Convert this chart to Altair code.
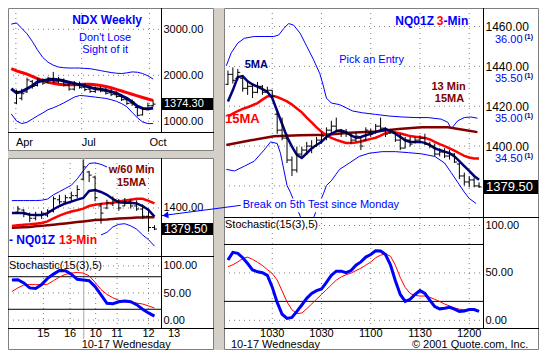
import altair as alt
import pandas as pd

# ======================= data =======================
# ---- NDX weekly (upper-left window); x = week index ----
ndx_line_week = list(range(28))
ndx_ma5 = [1709, 1618, 1646, 1709, 1772, 1856, 1884, 1905, 1912, 1905, 1877, 1849, 1821, 1793,
           1772, 1737, 1709, 1695, 1674, 1646, 1611, 1554, 1498, 1421, 1330, 1281, 1267, 1288]
ndx_ma15 = [2144, 2095, 2060, 2025, 1975, 1926, 1884, 1849, 1828, 1807, 1793, 1793, 1793, 1800,
            1807, 1807, 1793, 1779, 1758, 1730, 1695, 1660, 1625, 1589, 1554, 1519, 1484, 1456]
ndx_band_hi = [3112, 3140, 3021, 2902, 2740, 2551, 2389, 2284, 2221, 2179, 2165, 2158, 2158, 2158,
               2151, 2144, 2123, 2102, 2081, 2060, 2046, 2039, 2053, 2074, 2067, 2039, 1989, 1919]
ndx_band_lo = [1161, 1007, 951, 979, 1049, 1119, 1182, 1253, 1295, 1344, 1400, 1463, 1526, 1561,
               1554, 1540, 1526, 1512, 1498, 1470, 1435, 1386, 1316, 1196, 1077, 986, 951, 951]
ndx_bar_week = list(range(1, 28))
ndx_open = [1400, 1500, 1640, 1870, 1780, 1900, 1850, 1930, 1860, 1900, 1790, 1700, 1800, 1740,
            1700, 1650, 1710, 1660, 1620, 1580, 1540, 1470, 1400, 1300, 1140, 1280, 1340]
ndx_high = [1688, 1709, 1947, 1898, 1947, 1933, 1968, 2074, 1968, 1933, 1863, 1877, 1863, 1828,
            1779, 1758, 1758, 1723, 1702, 1653, 1596, 1512, 1477, 1337, 1302, 1407, 1456]
ndx_low = [1372, 1456, 1617, 1709, 1758, 1793, 1828, 1828, 1828, 1758, 1667, 1667, 1709, 1653,
           1617, 1617, 1632, 1582, 1547, 1512, 1442, 1358, 1337, 1105, 1126, 1267, 1316]
ndx_close = [1650, 1600, 1900, 1760, 1920, 1830, 1940, 1860, 1900, 1790, 1700, 1820, 1740, 1690,
             1650, 1720, 1660, 1610, 1580, 1540, 1470, 1390, 1420, 1130, 1270, 1340, 1374.3]
ndx_last = 1374.30
ndx_month_pos = [0.88, 13.4, 26.3]
ndx_month_lab = ["Apr", "Jul", "Oct"]
ndx_price_ticks = [1000, 2000, 3000]

# ---- NQ01Z 13-min (middle-left window); x = bar slot ----
nq13_line_idx = list(range(-1, 24))
nq13_ma5 = [1395.0, 1395.0, 1395.0, 1393.5, 1393.1, 1393.1, 1395.0, 1398.8, 1401.9, 1404.4,
            1406.2, 1408.1, 1409.7, 1416.5, 1417.4, 1415.6, 1412.8, 1408.7, 1405.6, 1405.0,
            1405.0, 1404.4, 1401.9, 1398.1, 1391.6]
nq13_ma15 = [1382.6, 1383.2, 1383.8, 1384.1, 1384.7, 1385.4, 1386.9, 1390.0, 1392.5, 1394.7,
             1396.6, 1397.8, 1399.4, 1401.9, 1403.1, 1404.0, 1404.7, 1405.0, 1406.2, 1407.2,
             1408.1, 1409.0, 1409.0, 1406.9, 1404.4]
nq13_ma60 = [1380.7, 1381.0, 1381.3, 1381.6, 1382.2, 1382.6, 1383.2, 1383.8, 1384.4, 1385.0,
             1385.7, 1386.3, 1386.9, 1387.5, 1388.2, 1388.5, 1388.8, 1389.4, 1389.7, 1390.0,
             1390.3, 1390.7, 1390.7, 1391.0, 1391.0]
nq13_band_hi_idx = list(range(-1, 16))
nq13_band_hi = [1407.2, 1407.2, 1407.2, 1407.2, 1407.2, 1407.5, 1408.7, 1412.8, 1415.9, 1419.0,
                1422.1, 1428.3, 1436.1, 1443.3, 1443.9, 1442.4, 1439.9]
nq13_band_lo_idx = list(range(14, 24))
nq13_band_lo = [1373.8, 1376.3, 1381.6, 1384.1, 1384.7, 1382.6, 1379.4, 1373.8, 1369.2, 1362.9]
nq13_bar_idx = list(range(24))
nq13_open = [1396, 1398, 1394, 1390, 1393, 1393, 1397, 1408, 1406, 1410, 1412, 1428, 1435, 1430,
             1402, 1400, 1404, 1406, 1402, 1406, 1402, 1399, 1392, 1381]
nq13_high = [1401.9, 1398.8, 1395.6, 1396.3, 1397.2, 1398.8, 1411.2, 1412.8, 1412.8, 1415.9,
             1422.1, 1447.0, 1436.1, 1431.5, 1405.0, 1408.1, 1411.2, 1408.7, 1409.7, 1408.7,
             1407.5, 1403.4, 1397.2, 1383.2]
nq13_low = [1394.1, 1391.0, 1386.3, 1387.9, 1389.4, 1391.0, 1395.6, 1403.4, 1405.0, 1406.5,
            1409.7, 1426.8, 1425.2, 1406.5, 1384.7, 1398.8, 1401.9, 1397.2, 1401.9, 1399.4,
            1397.2, 1389.4, 1376.9, 1378.5]
nq13_close = [1399, 1394, 1390, 1393, 1395, 1397, 1409, 1406, 1410, 1412, 1418, 1440, 1432, 1410,
              1395, 1405, 1408, 1400, 1406, 1402, 1399, 1392, 1381, 1379.5]
nq13_last = 1379.50
nq13_price_ticks = [1400]
nq13_tick_pos = [4.3, 8.8, 13.1, 16.7, 22.0, 26.3]
nq13_tick_lab = ["15", "16", "10", "11", "12", "13"]
nq13_day_break = [11.1]
# stochastic of the 13-min chart
st13_k = [73.9, 74.5, 68.5, 59.4, 58.2, 65.5, 77.0, 84.8, 91.5, 90.9, 84.8, 75.2, 73.9, 72.7,
          61.8, 46.7, 30.9, 30.3, 33.9, 35.2, 33.9, 28.5, 20.0, 13.3, 7.3]
st13_d = [52.7, 59.4, 64.8, 65.5, 65.5, 65.5, 66.1, 72.7, 79.4, 84.2, 86.7, 87.9, 86.7, 81.8,
          69.7, 56.4, 47.3, 41.2, 36.4, 33.9, 32.7, 31.5, 29.7, 26.1, 22.4]

# ---- NQ01Z 3-min (right window); x = minutes after midnight ----
nq3_t = list(range(573, 729, 3))
nq3_open = [1431, 1436, 1434, 1434, 1429, 1430, 1427, 1430, 1427, 1428, 1416, 1408, 1404, 1393,
            1388, 1396, 1398, 1400, 1400, 1403, 1404, 1408, 1410, 1408, 1407, 1406, 1403, 1404,
            1403, 1407, 1407, 1410, 1409, 1406.5, 1407, 1403, 1399, 1403, 1402, 1403, 1404, 1401,
            1400, 1396, 1397, 1395, 1396, 1391, 1385, 1382, 1383, 1380]
nq3_high = [1437.9, 1439.5, 1438.7, 1434.6, 1432.2, 1431.4, 1432.2, 1430.6, 1429.8, 1428.1,
            1417.6, 1414.3, 1406.2, 1394.8, 1399.7, 1399.7, 1402.1, 1402.9, 1404.6, 1407.0,
            1409.4, 1412.7, 1414.3, 1408.6, 1408.6, 1406.2, 1407.0, 1404.6, 1409.4, 1408.6,
            1411.1, 1414.3, 1409.4, 1408.6, 1407.0, 1406.2, 1404.6, 1404.6, 1404.6, 1405.4,
            1406.2, 1402.1, 1401.3, 1398.9, 1398.9, 1398.0, 1396.4, 1391.5, 1386.7, 1385.0,
            1384.2, 1381.8]
nq3_low = [1430.6, 1431.4, 1433.0, 1427.3, 1425.7, 1424.1, 1426.5, 1425.7, 1426.5, 1424.1,
           1406.2, 1402.9, 1391.5, 1385.0, 1386.7, 1394.8, 1395.6, 1396.4, 1399.7, 1401.3,
           1402.9, 1406.2, 1407.0, 1404.6, 1404.6, 1401.3, 1402.1, 1398.0, 1402.9, 1404.6,
           1406.2, 1407.0, 1404.6, 1406.2, 1402.1, 1398.0, 1398.9, 1399.7, 1401.3, 1402.1,
           1400.5, 1398.9, 1394.8, 1394.8, 1394.0, 1393.2, 1391.5, 1383.4, 1380.2, 1379.3,
           1379.3, 1379.0]
nq3_close = [1436, 1433, 1437, 1429, 1430, 1427, 1430, 1427, 1428, 1425, 1408, 1404, 1393, 1388,
             1396, 1398, 1400, 1399, 1403, 1405, 1408, 1410, 1408, 1407, 1406, 1403, 1405, 1400,
             1408, 1406, 1410, 1409, 1406, 1408, 1403, 1399, 1403, 1401, 1403, 1404, 1401, 1400,
             1396, 1397, 1395, 1396, 1392, 1385, 1382, 1383, 1380, 1379.5]
nq3_ma5 = [1422.4, 1428.1, 1434.6, 1435.1, 1432.5, 1430.9, 1429.8, 1428.6, 1427.3, 1424.1,
           1417.6, 1411.1, 1404.6, 1399.7, 1395.6, 1394.0, 1396.4, 1398.9, 1400.5, 1402.1,
           1404.6, 1406.2, 1407.5, 1407.8, 1407.0, 1405.4, 1404.2, 1404.6, 1405.4, 1406.2,
           1407.0, 1407.8, 1408.6, 1407.5, 1406.2, 1404.6, 1402.9, 1402.1, 1402.1, 1402.1,
           1401.6, 1400.5, 1398.9, 1398.0, 1397.2, 1396.4, 1394.8, 1392.4, 1389.9, 1387.5,
           1385.0, 1383.1]
nq3_ma15 = [1414.8, 1416.3, 1417.6, 1418.7, 1419.5, 1420.5, 1421.6, 1423.3, 1424.9, 1425.2,
            1424.6, 1423.6, 1422.4, 1420.8, 1418.9, 1416.9, 1414.3, 1411.9, 1409.4, 1407.2,
            1405.4, 1404.1, 1403.1, 1402.3, 1401.6, 1401.6, 1401.8, 1402.3, 1402.9, 1403.6,
            1404.2, 1405.2, 1406.5, 1407.2, 1406.8, 1406.3, 1405.7, 1405.0, 1404.7, 1404.4,
            1404.1, 1403.3, 1402.1, 1401.0, 1400.0, 1398.9, 1397.7, 1396.4, 1395.1, 1394.3,
            1393.8, 1393.7]
nq3_ma13m_t = [572, 587, 601, 617, 633, 647, 663, 677, 691, 707, 719, 725]
nq3_ma13m = [1400.5, 1402.9, 1404.9, 1405.4, 1405.7, 1406.7, 1407.3, 1408.6, 1409.4, 1409.4,
             1407.8, 1407.0]
nq3_band_hi_t = [572, 575, 579, 583, 589, 595, 601, 604, 607, 610, 613, 617, 621, 625, 629, 631,
                 633, 636, 641, 645, 649, 655, 663, 671, 679, 687, 695, 703, 707, 709, 713, 717,
                 721, 725]
nq3_band_hi = [1440.3, 1446.8, 1451.7, 1454.1, 1455.0, 1455.0, 1455.0, 1455.8, 1459.0, 1461.5,
               1460.7, 1456.6, 1450.1, 1443.6, 1436.3, 1430.6, 1424.1, 1421.6, 1420.8, 1419.2,
               1417.6, 1416.7, 1415.9, 1415.1, 1414.6, 1414.3, 1414.3, 1413.5, 1411.9, 1408.6,
               1412.7, 1414.3, 1414.6, 1414.0]
nq3_band_lo_a_t = [572, 577, 583, 589, 595, 599, 603, 605, 607, 609, 611, 614, 617.2]
nq3_band_lo_a = [1388.3, 1387.5, 1389.9, 1392.4, 1398.0, 1402.1, 1401.3, 1396.4, 1388.3, 1380.2,
                 1376.9, 1370.9, 1364.5]
nq3_band_lo_b_t = [625.4, 628, 631.2, 633, 636, 641, 647, 653, 659, 667, 675, 683, 691, 699, 705,
                   709, 713, 717, 720, 724.2]
nq3_band_lo_b = [1364.5, 1370.1, 1376.1, 1380.2, 1382.6, 1388.3, 1391.5, 1394.8, 1396.4, 1397.2,
                 1397.2, 1396.7, 1396.1, 1394.8, 1391.5, 1386.7, 1381.8, 1376.9, 1373.7, 1371.2]
nq3_last = 1379.50
nq3_price_grid = [1380, 1400, 1420, 1440, 1460]
nq3_price_ticks = [1400, 1420, 1440, 1460]
qqq_ticks = [34.5, 35.0, 35.5, 36.0]
nq3_tick_t = [600, 630, 660, 690, 720]
nq3_tick_lab = ["1030", "1030", "1100", "1130", "1200"]
st3_k = [63.6, 71.7, 70.7, 66.0, 59.9, 53.2, 51.2, 50.2, 47.5, 35.0, 18.9, 6.4, 2.0, 3.0, 9.4,
         16.2, 23.2, 28.3, 31.3, 33.0, 40.1, 47.5, 51.9, 51.9, 50.2, 52.5, 58.2, 61.6, 66.7, 69.4,
         73.4, 73.1, 69.4, 58.6, 41.8, 27.3, 19.9, 22.2, 27.3, 31.3, 28.3, 21.2, 14.5, 12.1, 12.8,
         13.8, 11.8, 9.4, 9.8, 11.4, 11.4, 9.4]
st3_d = [56.6, 58.6, 61.6, 65.3, 66.7, 64.3, 61.3, 57.9, 53.5, 49.5, 42.4, 31.0, 19.5, 11.1, 7.1,
         7.7, 12.1, 17.2, 22.2, 27.3, 32.3, 37.4, 42.4, 45.8, 48.1, 49.8, 52.5, 54.9, 58.2, 61.6,
         66.0, 68.7, 70.0, 67.7, 58.2, 45.1, 34.7, 28.3, 26.3, 25.6, 25.6, 24.2, 22.2, 19.9, 17.2,
         15.2, 13.1, 11.8, 11.1, 10.4, 10.4, 10.1]
stoch_grid = [0, 50, 100]
stoch_levels = [20, 80]

# ======================= layout / style =======================
FONT = "Liberation Sans"
BLUE, NAVY, RED, MAROON = "#0000ff", "#000080", "#ff0000", "#800000"
GRAY, GRID = "#d4d0c8", "#808080"
W, H = 531, 342
P = {"LT": (0, 0, 153, 124), "LM": (0, 150, 153, 98), "LS": (0, 248, 153, 72),
     "RT": (216, 0, 259, 209), "RS": (216, 209, 259, 111)}
REF = {"LT": (4, 4, 156, 128), "LM": (4, 160, 156, 102), "LS": (4, 262, 156, 73),
       "RT": (226, 4, 263, 215), "RS": (226, 219, 263, 116)}
LT_X, LT_Y = [-0.62, 28.5], [768, 3463]
L_X, LM_Y, LS_Y = [-1.66, 24.1], [1353.3, 1448.6], [-14.5, 118.2]
R_X, RT_Y, RT_Y2, RS_Y = [570.6, 728.4], [1364.4, 1469.3], [33.77, 36.39], [-8.1, 109]
TICK_Y = 325.5    # row of time labels under the stochastic panels
DATE_Y = 337.0    # row of date / copyright text


def at(p, rx, ry):
    x0, y0, w, h = P[p]
    a, b, c, d = REF[p]
    return x0 + (rx - a) * w / c, y0 + (ry - b) * h / d


def sx(p, dom):
    x0, y0, w, h = P[p]
    return alt.Scale(domain=dom, range=[x0, x0 + w], nice=False, zero=False)


def sy(p, dom):
    x0, y0, w, h = P[p]
    return alt.Scale(domain=dom, range=[y0 + h, y0], nice=False, zero=False)


ONE = pd.DataFrame({"d": [0]})
layers = []


def rect(x1, y1, x2, y2, **kw):
    return alt.Chart(ONE).mark_rect(**kw).encode(
        x=alt.value(x1), x2=alt.value(x2), y=alt.value(y1), y2=alt.value(y2))


def seg(x1, y1, x2, y2, color="black", width=1):
    return alt.Chart(ONE).mark_rule(color=color, strokeWidth=width).encode(
        x=alt.value(x1), x2=alt.value(x2), y=alt.value(y1), y2=alt.value(y2))


def text(p, rx, ry, s, color="black", size=11, bold=False, align="left", y=None):
    x, yy = at(p, rx, ry)
    if y is not None:
        yy = y
    kw = dict(text=s, color=color, fontSize=size, font=FONT, align=align, baseline="middle")
    if bold:
        kw["fontWeight"] = "bold"
    return alt.Chart(ONE).mark_text(**kw).encode(x=alt.value(x), y=alt.value(yy))


def series(p, xdom, ydom, xv, yv, color, width, segs=None):
    d = {"x": xv, "y": yv}
    enc = dict(x=alt.X("x:Q", scale=sx(p, xdom), axis=None),
               y=alt.Y("y:Q", scale=sy(p, ydom), axis=None))
    if segs is not None:
        d["s"] = segs
        enc["detail"] = "s:N"
    return alt.Chart(pd.DataFrame(d)).mark_line(color=color, strokeWidth=width).encode(**enc)


def ohlc(p, xdom, ydom, x, o, h, l, c):
    df = pd.DataFrame({"x": x, "o": o, "h": h, "l": l, "c": c})
    X = alt.X("x:Q", scale=sx(p, xdom), axis=None)
    b = alt.Chart(df)
    return [
        b.mark_rule(color="black", strokeWidth=1).encode(
            x=X, y=alt.Y("h:Q", scale=sy(p, ydom), axis=None), y2="l:Q"),
        b.mark_tick(orient="horizontal", color="black", size=2.5, thickness=1, opacity=1,
                    xOffset=-1.25).encode(x=X, y=alt.Y("o:Q", scale=sy(p, ydom), axis=None)),
        b.mark_tick(orient="horizontal", color="black", size=2.5, thickness=1, opacity=1,
                    xOffset=1.25).encode(x=X, y=alt.Y("c:Q", scale=sy(p, ydom), axis=None)),
    ]


def yaxis(vals, p, pad=2, size=11, **kw):
    x0, y0, w, h = P[p]
    return alt.Axis(orient="right", offset=x0 + w - W, values=vals, format=".2f", ticks=False,
                    tickSize=0, domain=False, grid=False, labelPadding=pad, labelFont=FONT,
                    labelFontSize=size, labelOverlap=False, title=None, **kw)


def hgrid(p, ydom, vals, axis=None, dash=True, color=GRID):
    x0, y0, w, h = P[p]
    mk = dict(color=color, strokeWidth=1)
    if dash:
        mk["strokeDash"] = [1, 4]
    return alt.Chart(pd.DataFrame({"v": vals})).mark_rule(**mk).encode(
        y=alt.Y("v:Q", scale=sy(p, ydom), axis=axis), x=alt.value(x0), x2=alt.value(x0 + w))


def vgrid(p, xdom, vals, y1, y2, dash=True, color=GRID):
    mk = dict(color=color, strokeWidth=1)
    if dash:
        mk["strokeDash"] = [1, 4]
    return alt.Chart(pd.DataFrame({"v": vals})).mark_rule(**mk).encode(
        x=alt.X("v:Q", scale=sx(p, xdom), axis=None), y=alt.value(y1), y2=alt.value(y2))


def xlabels(p, xdom, vals, labs, y, align="center"):
    return alt.Chart(pd.DataFrame({"v": vals, "t": labs})).mark_text(
        font=FONT, fontSize=11, color="black", align=align, baseline="middle").encode(
        x=alt.X("v:Q", scale=sx(p, xdom), axis=None), y=alt.value(y), text="t:N")


def pricebox(p, ydom, price, bw, bh, size):
    x0, y0, w, h = P[p]
    df = pd.DataFrame({"p": [price]})
    Y = alt.Y("p:Q", scale=sy(p, ydom), axis=None)
    return [
        alt.Chart(df).mark_tick(orient="horizontal", color="black", size=bw, thickness=bh,
                                opacity=1).encode(x=alt.value(x0 + w + 1 + bw / 2), y=Y),
        alt.Chart(df).mark_text(color="white", font=FONT, fontSize=size, align="left",
                                baseline="middle").encode(
            x=alt.value(x0 + w + 3), y=Y, text=alt.Text("p:Q", format=".2f")),
    ]


# ---------- window chrome ----------
layers += [
    rect(206, 0, 216, H, color=GRAY),
    rect(0, 143, 206, 150, color=GRAY),
    rect(0.5, 0.5, 205.5, 142.5, filled=False, color=GRID, strokeWidth=1),
    rect(0.5, 150.5, 205.5, 341.5, filled=False, color=GRID, strokeWidth=1),
    rect(216.5, 0.5, 530.5, 341.5, filled=False, color=GRID, strokeWidth=1),
]

# ---------- grids and value axes ----------
layers += [
    hgrid("LT", LT_Y, ndx_price_ticks, yaxis(ndx_price_ticks, "LT")),
    vgrid("LT", LT_X, ndx_month_pos, 0, 124),
    hgrid("LM", LM_Y, nq13_price_ticks, yaxis(nq13_price_ticks, "LM")),
    hgrid("LS", LS_Y, stoch_grid, yaxis(stoch_grid, "LS")),
    vgrid("LM", L_X, [v for v in nq13_tick_pos if v <= L_X[1]], 150, 320),
    vgrid("LM", L_X, nq13_day_break, 150, 331, dash=False, color="#a8a8a8"),
    hgrid("RT", RT_Y, nq3_price_grid, yaxis(nq3_price_ticks, "RT", size=12)),
    hgrid("RS", RS_Y, stoch_grid, yaxis(stoch_grid, "RS")),
    vgrid("RT", R_X, nq3_tick_t, 0, 320),
    alt.Chart(pd.DataFrame({"v": qqq_ticks})).mark_rule(opacity=0).encode(
        y=alt.Y("v:Q", scale=sy("RT", RT_Y2),
                axis=yaxis(qqq_ticks, "RT", pad=39, labelAlign="right", labelColor=BLUE)),
        x=alt.value(216), x2=alt.value(217)),
    alt.Chart(pd.DataFrame({"v": qqq_ticks})).mark_rule(opacity=0).encode(
        y=alt.Y("v:Q", scale=sy("RT", RT_Y2),
                axis=yaxis(qqq_ticks, "RT", pad=41, size=7, labelAlign="left", labelColor=NAVY,
                           labelFontWeight="bold", labelOffset=-3, labelExpr="'(1)'")),
        x=alt.value(216), x2=alt.value(217)),
]

# ---------- NDX weekly ----------
layers += [
    series("LT", LT_X, LT_Y, ndx_line_week, ndx_band_hi, BLUE, 1),
    series("LT", LT_X, LT_Y, ndx_line_week, ndx_band_lo, BLUE, 1),
    series("LT", LT_X, LT_Y, ndx_line_week, ndx_ma15, RED, 3),
    series("LT", LT_X, LT_Y, ndx_line_week, ndx_ma5, NAVY, 3),
]
layers += ohlc("LT", LT_X, LT_Y, ndx_bar_week, ndx_open, ndx_high, ndx_low, ndx_close)

# ---------- NQ 13-min ----------
layers += [
    series("LM", L_X, LM_Y, nq13_band_hi_idx, nq13_band_hi, BLUE, 1),
    series("LM", L_X, LM_Y, nq13_band_lo_idx, nq13_band_lo, BLUE, 1),
    series("LM", L_X, LM_Y, nq13_line_idx, nq13_ma60, MAROON, 2.5),
    series("LM", L_X, LM_Y, nq13_line_idx, nq13_ma15, RED, 2.5),
    series("LM", L_X, LM_Y, nq13_line_idx, nq13_ma5, NAVY, 2.5),
]
layers += ohlc("LM", L_X, LM_Y, nq13_bar_idx, nq13_open, nq13_high, nq13_low, nq13_close)
layers += [
    hgrid("LS", LS_Y, stoch_levels, dash=False, color="black"),
    series("LS", L_X, LS_Y, nq13_line_idx, st13_d, RED, 1),
    series("LS", L_X, LS_Y, nq13_line_idx, st13_k, BLUE, 3),
]

# ---------- NQ 3-min ----------
layers += [
    series("RT", R_X, RT_Y, nq3_band_hi_t, nq3_band_hi, BLUE, 1),
    series("RT", R_X, RT_Y, nq3_band_lo_a_t + nq3_band_lo_b_t, nq3_band_lo_a + nq3_band_lo_b,
           BLUE, 1, segs=["a"] * len(nq3_band_lo_a) + ["b"] * len(nq3_band_lo_b)),
    series("RT", R_X, RT_Y, nq3_ma13m_t, nq3_ma13m, MAROON, 2.5),
    series("RT", R_X, RT_Y, nq3_t, nq3_ma15, RED, 2.5),
    series("RT", R_X, RT_Y, nq3_t, nq3_ma5, NAVY, 2.5),
]
layers += ohlc("RT", R_X, RT_Y, nq3_t, nq3_open, nq3_high, nq3_low, nq3_close)
layers += [
    hgrid("RS", RS_Y, stoch_levels, dash=False, color="black"),
    series("RS", R_X, RS_Y, nq3_t, st3_d, RED, 1),
    series("RS", R_X, RS_Y, nq3_t, st3_k, BLUE, 3),
]

# ---------- time labels ----------
layers += [
    xlabels("LT", LT_X, ndx_month_pos, ndx_month_lab, at("LT", 0, 143)[1], align="left"),
    xlabels("LS", L_X, nq13_tick_pos, nq13_tick_lab, TICK_Y),
    xlabels("RS", R_X, nq3_tick_t, nq3_tick_lab, TICK_Y),
    text("LS", 124.5, 352, "10-17 Wednesday", align="center", y=DATE_Y),
    text("RS", 233, 352, "10-17 Wednesday", y=DATE_Y),
    text("RS", 535, 352, "\u00a9 2001 Quote.com, Inc.", align="right", y=DATE_Y),
]

# ---------- annotations ----------
layers += [
    text("LT", 105, 16, "NDX Weekly", BLUE, 12, True, "center"),
    text("LT", 103, 35, "Don't Lose", BLUE, 11, False, "center"),
    text("LT", 103, 47, "Sight of it", BLUE, 11, False, "center"),
    text("LM", 130, 172, "w/60 Min", MAROON, 11, True, "center"),
    text("LM", 130, 186, "15MA", MAROON, 11, True, "center"),
    text("LM", 5, 245, "- NQ01Z", BLUE, 12, True),
    text("LM", 56, 245, "13-Min", RED, 12, True),
    text("LS", 5, 272, "Stochastic(15(3),5)"),
    text("RT", 400, 17, "NQ01Z", BLUE, 12, True),
    text("RT", 442, 17, "3", RED, 12, True),
    text("RT", 449, 17, "-Min", BLUE, 12, True),
    text("RT", 343, 57, "Pick an Entry", BLUE, 11),
    text("RT", 247, 63, "5MA", NAVY, 11, True),
    text("RT", 227, 118, "15MA", RED, 13, True),
    text("RT", 454, 85, "13 Min", MAROON, 11, True, "center"),
    text("RT", 455, 98, "15MA", MAROON, 11, True, "center"),
    text("RS", 227, 227, "Stochastic(15(3),5)"),
]

# ---------- black dividers ----------
layers += [
    seg(153.5, 0, 153.5, 124.5), seg(0, 124.5, 206, 124.5),
    seg(153.5, 150, 153.5, 320.5), seg(0, 248.5, 206, 248.5), seg(0, 320.5, 206, 320.5),
    seg(475.5, 0, 475.5, 320.5), seg(216, 209.5, 531, 209.5), seg(216, 320.5, 531, 320.5),
]

# ---------- last-price boxes ----------
layers += pricebox("LT", LT_Y, ndx_last, 51, 12, 11)
layers += pricebox("LM", LM_Y, nq13_last, 51, 12, 12)
layers += pricebox("RT", RT_Y, nq3_last, 54, 14, 13)

# ---------- arrow + callout ----------
tx, ty = at("LM", 161, 220)
ex, ey = at("RT", 243, 207)
bx1, by1 = at("RT", 243, 200)
bx2, by2 = at("RT", 400, 214)
layers += [
    rect(bx1, by1, bx2, by2, color="white"),
    seg(tx, ty, ex, ey, color=BLUE, width=1),
    alt.Chart(ONE).mark_point(shape="triangle-left", filled=True, color=BLUE, size=45, opacity=1,
                              angle=352).encode(x=alt.value(tx + 3.5), y=alt.value(ty - 0.4)),
    text("RT", 245, 207, "Break on 5th Test since Monday", BLUE, 11),
]

chart = alt.layer(*layers).resolve_scale(x="independent", y="independent").properties(
    width=W, height=H, background="white", padding=0,
    autosize=alt.AutoSizeParams(type="none"),
).configure_view(stroke=None)

chart.save("out.html", embed_options={"renderer": "svg", "actions": False})
